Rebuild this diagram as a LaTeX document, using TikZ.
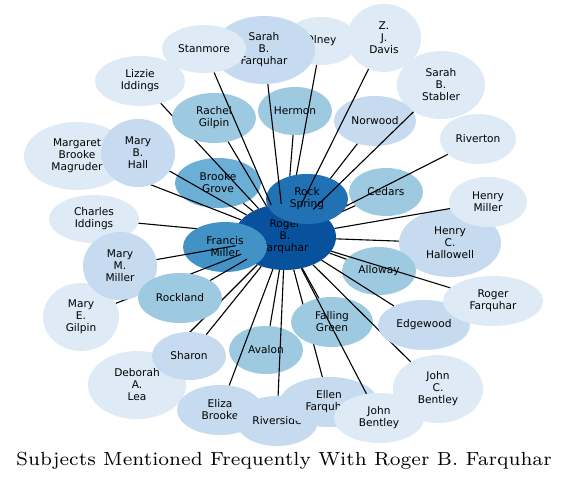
\documentclass[tikz,border=0pt]{standalone}
\usepackage{fontspec}
\newfontfamily\dejavu{DejaVu Sans}
\newfontfamily\ttlfont{lmroman7-regular.otf}
\usetikzlibrary{shapes.geometric}
\definecolor{cA}{HTML}{08519C}
\definecolor{cB}{HTML}{2171B5}
\definecolor{cC}{HTML}{4292C6}
\definecolor{cD}{HTML}{6BAED6}
\definecolor{cE}{HTML}{9ECAE1}
\definecolor{cF}{HTML}{C6DBEF}
\definecolor{cG}{HTML}{DEEBF7}
\newcommand\bub[7]{\node[nd, fill=#6, minimum width=#4pt, minimum height=#5pt] (#1) at (#2,#3) {#7};}
\begin{document}
\begin{tikzpicture}[x=1pt,y=-1pt,
  nd/.style={ellipse, draw=none, inner sep=0pt, align=center, text=black,
    font={\dejavu\fontsize{10.6}{12}\selectfont}},
  edge/.style={draw=black, line width=1.1pt},
  ttl/.style={font={\ttlfont\fontsize{19.0}{24}\selectfont}, text=black, inner sep=0pt}]
\useasboundingbox[fill=white] (0,0) rectangle (568,481);
% centre
\bub{roger}{285}{237}{102}{66}{cA}{Roger\\B.\\Farquhar}
\bub{brooke}{218}{183}{86}{50}{cD}{Brooke\\Grove}
\draw[edge] (brooke) -- (roger);
\bub{hermon}{295}{111}{74}{48}{cE}{Hermon}
\draw[edge] (hermon) -- (roger);
\bub{cedars}{386}{192}{74}{48}{cE}{Cedars}
\draw[edge] (cedars) -- (roger);
\bub{stabler}{441}{85}{88}{68}{cG}{Sarah\\B.\\Stabler}
\bub{davis}{384}{38}{74}{68}{cG}{Z.\\J.\\Davis}
\bub{olney}{321}{41}{74}{48}{cG}{Olney}
\draw[edge] (olney) -- (roger);
\bub{norwood}{375}{121}{82}{50}{cF}{Norwood}
\draw[edge] (norwood) -- (roger);
\bub{riverton}{478}{139}{76}{50}{cG}{Riverton}
\draw[edge] (riverton) -- (roger);
\bub{rock}{307}{199}{82}{50}{cB}{Rock\\Spring}
\draw[edge] (stabler) -- (roger);
\draw[edge] (davis) -- (roger);
\bub{sarahf}{264}{50}{102}{68}{cF}{Sarah\\B.\\Farquhar}
\draw[edge] (sarahf) -- (roger);
\bub{lizzie}{140}{81}{90}{50}{cG}{Lizzie\\Iddings}
\draw[edge] (lizzie) -- (roger);
\bub{rachel}{214}{118}{84}{50}{cE}{Rachel\\Gilpin}
\draw[edge] (rachel) -- (roger);
\bub{stanmore}{204}{49}{84}{48}{cG}{Stanmore}
\draw[edge] (stanmore) -- (roger);
% left side
\bub{margaret}{77}{156}{106}{68}{cG}{Margaret\\Brooke\\Magruder}
\draw[edge] (margaret) -- (roger);
\bub{maryhall}{138}{153}{74}{68}{cF}{Mary\\B.\\Hall}
\draw[edge] (maryhall) -- (roger);
\bub{charles}{94}{219}{90}{48}{cG}{Charles\\Iddings}
\draw[edge] (charles) -- (roger);
\bub{francis}{225}{247}{84}{50}{cC}{Francis\\Miller}
\bub{marygilpin}{81}{317}{76}{68}{cG}{Mary\\E.\\Gilpin}
\draw[edge] (marygilpin) -- (roger);
\bub{marymiller}{120}{266}{74}{68}{cF}{Mary\\M.\\Miller}
\draw[edge] (marymiller) -- (roger);
\bub{deborah}{137}{385}{98}{68}{cG}{Deborah\\A.\\Lea}
\draw[edge] (deborah) -- (roger);
\bub{sharon}{189}{356}{74}{48}{cF}{Sharon}
\draw[edge] (sharon) -- (roger);
\bub{rockland}{180}{298}{84}{50}{cE}{Rockland}
\draw[edge] (rockland) -- (roger);
% bottom
\bub{avalon}{266}{350}{74}{48}{cE}{Avalon}
\draw[edge] (avalon) -- (roger);
\bub{eliza}{220}{410}{86}{50}{cF}{Eliza\\Brooke}
\draw[edge] (eliza) -- (roger);
\bub{riverside}{277}{421}{82}{50}{cF}{Riverside}
\draw[edge] (riverside) -- (roger);
\bub{ellen}{329}{402}{98}{50}{cF}{Ellen\\Farquhar}
\draw[edge] (ellen) -- (roger);
\bub{falling}{332}{322}{82}{50}{cE}{Falling\\Green}
\draw[edge] (falling) -- (roger);
\bub{jbentley}{379}{418}{90}{50}{cG}{John\\Bentley}
\draw[edge] (jbentley) -- (roger);
\bub{jcbentley}{438}{389}{90}{68}{cG}{John\\C.\\Bentley}
\draw[edge] (jcbentley) -- (roger);
% right side
\bub{hallowell}{450}{243}{102}{68}{cF}{Henry\\C.\\Hallowell}
\draw[edge] (hallowell) -- (roger);
\bub{alloway}{379}{271}{74}{48}{cE}{Alloway}
\draw[edge] (alloway) -- (roger);
\bub{edgewood}{424}{325}{92}{50}{cF}{Edgewood}
\draw[edge] (edgewood) -- (roger);
\bub{rogerf}{493}{301}{100}{50}{cG}{Roger\\Farquhar}
\draw[edge] (rogerf) -- (roger);
\bub{henrym}{488}{202}{78}{50}{cG}{Henry\\Miller}
\draw[edge] (henrym) -- (roger);
% title
\node[ttl, anchor=base] (title) at (284,465) {Subjects Mentioned Frequently With Roger B. Farquhar};
\end{tikzpicture}
\end{document}
